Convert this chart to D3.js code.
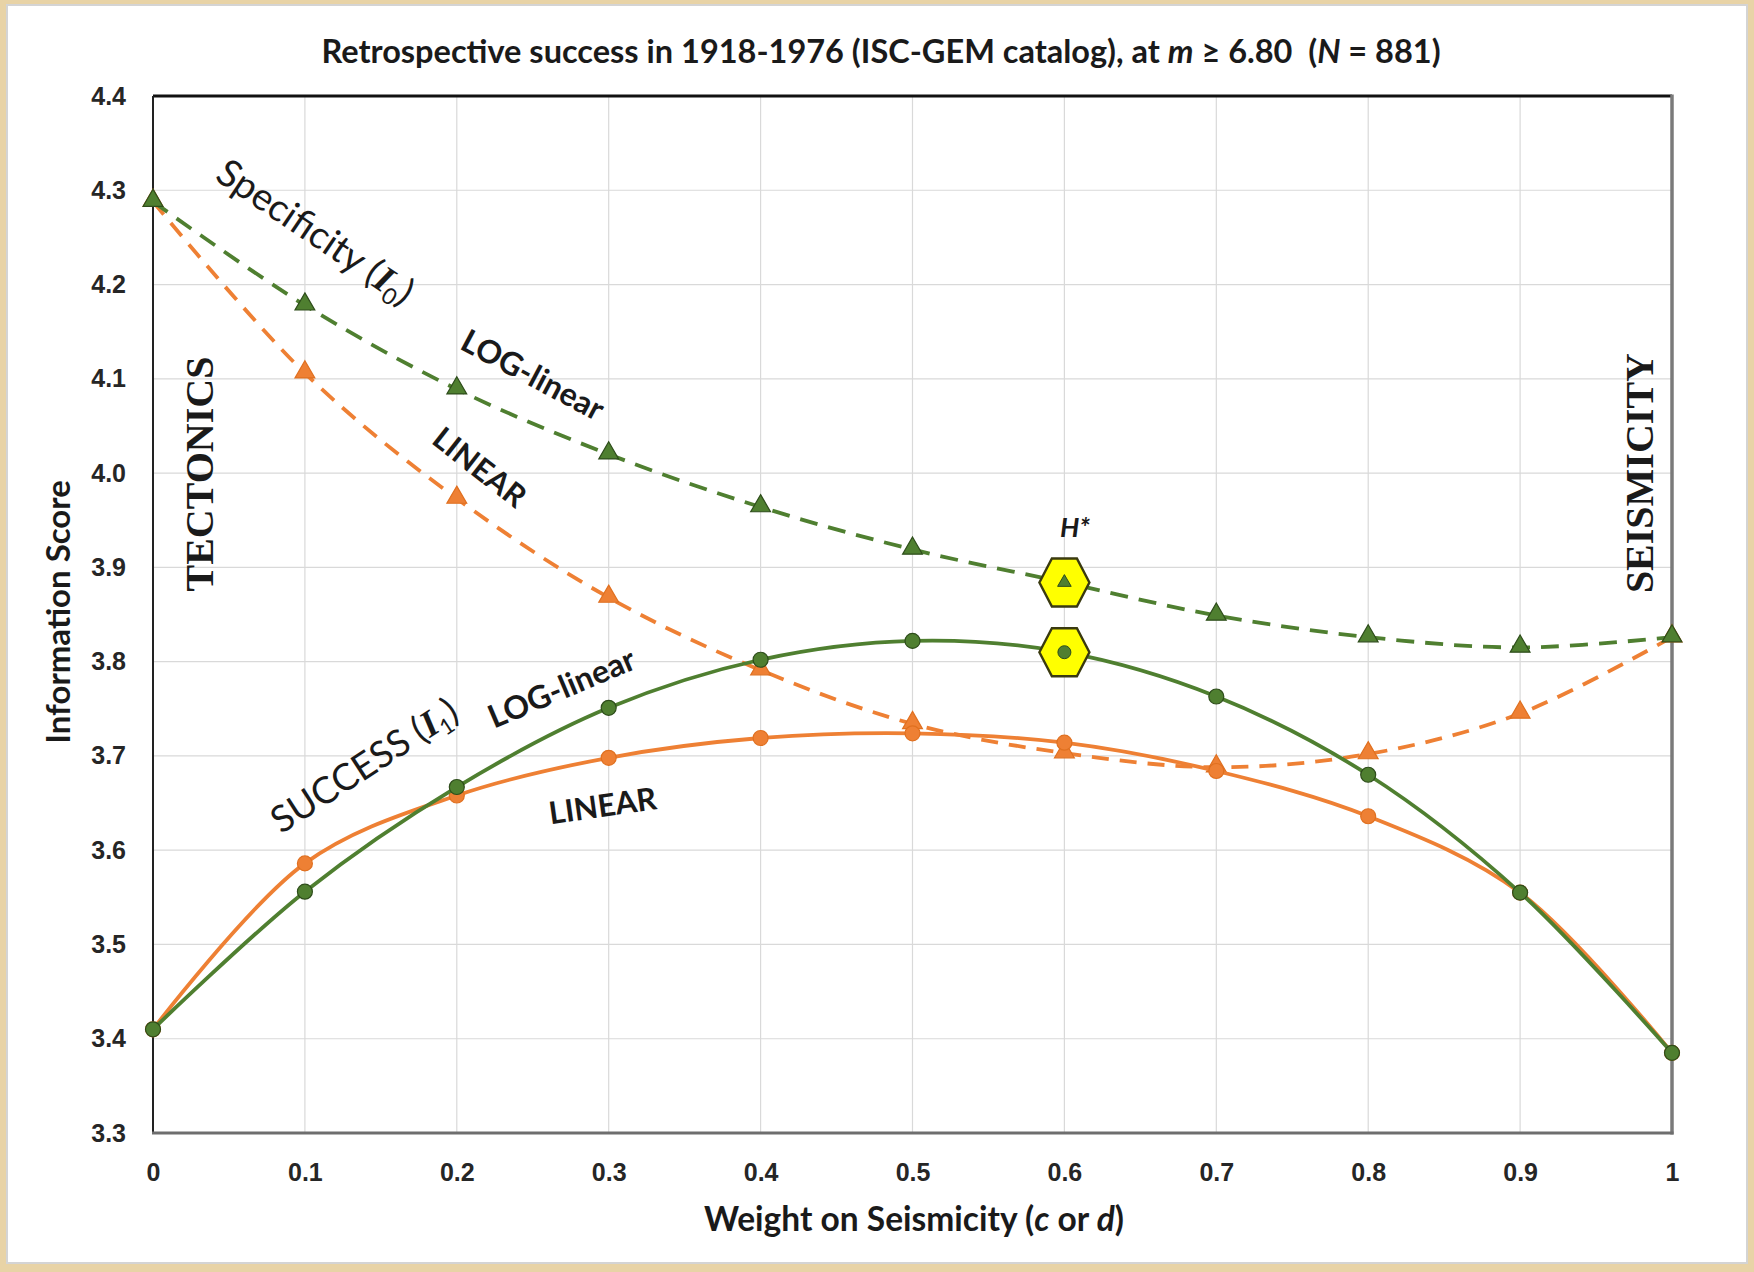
<!DOCTYPE html>
<html lang="en">

<head>
    <meta charset="UTF-8" />
    <title>Retrospective success in 1918-1976</title>
    <script src="https://d3js.org/d3.v7.min.js"></script>
    <style>
        body {
            margin: 0;
            background: #e8d3a6;
        }

        svg {
            display: block;
            font-family: Lato, "Open Sans", sans-serif;
        }

        .grid line {
            stroke: #d9d9d9;
            stroke-width: 1.2px;
        }

        .tick text {
            font-size: 25px;
            font-weight: bold;
            fill: #262626;
        }

        .note {
            fill: #1a1a1a;
        }
    </style>
</head>

<body>
    <svg width="1754" height="1272"></svg>

    <script>
        // weight on seismicity
        const weights = [0, 0.1, 0.2, 0.3, 0.4, 0.5, 0.6, 0.7, 0.8, 0.9, 1.0];
        const yTicks = [3.3, 3.4, 3.5, 3.6, 3.7, 3.8, 3.9, 4.0, 4.1, 4.2, 4.3, 4.4];

        // specificity I0
        const specLog = [4.288, 4.178, 4.089, 4.020, 3.964, 3.919, 3.884, 3.849, 3.826, 3.815, 3.826];
        const specLin = [4.288, 4.106, 3.973, 3.868, 3.791, 3.734, 3.703, 3.688, 3.702, 3.745, 3.826];
        // success I1
        const succLog = [3.410, 3.556, 3.667, 3.751, 3.802, 3.822, 3.810, 3.763, 3.680, 3.555, 3.385];
        const succLin = [3.410, 3.586, 3.658, 3.698, 3.719, 3.724, 3.714, 3.684, 3.636, 3.555, 3.385];

        // H* optimum (index into weights)
        const bestIndex = 6;

        const GREEN = "#4f7f30";
        const GREEN_DARK = "#2e4d1b";
        const ORANGE = "#ee8034";

        const svg = d3.select("svg");
        const W = 1754, H = 1272;

        // white card on the beige paper
        svg.append("rect").attr("x", 0).attr("y", 0).attr("width", W).attr("height", H).attr("fill", "#e8d3a6");
        svg.append("rect")
            .attr("x", 7).attr("y", 5).attr("width", 1740).attr("height", 1258)
            .attr("fill", "#fff").attr("stroke", "#d4d4d4").attr("stroke-width", 2);

        const pLeft = 153, pRight = 1672, pTop = 96, pBottom = 1133;
        const x = d3.scaleLinear().domain([0, 1]).range([pLeft, pRight]);
        const y = d3.scaleLinear().domain([3.3, 4.4]).range([pBottom, pTop]);

        // grid
        const grid = svg.append("g").attr("class", "grid");
        grid.selectAll(".gx").data(weights).join("line")
            .attr("x1", d => x(d)).attr("x2", d => x(d))
            .attr("y1", pTop).attr("y2", pBottom);
        grid.selectAll(".gy").data(yTicks).join("line")
            .attr("x1", pLeft).attr("x2", pRight)
            .attr("y1", d => y(d)).attr("y2", d => y(d));

        // axes labels only
        const yAxis = svg.append("g")
            .attr("transform", `translate(${pLeft},0)`)
            .call(d3.axisLeft(y).tickValues(yTicks).tickSize(0).tickPadding(27).tickFormat(d3.format(".1f")));
        yAxis.select(".domain").remove();

        const xAxis = svg.append("g")
            .attr("transform", `translate(0,${pBottom})`)
            .call(d3.axisBottom(x).tickValues(weights).tickSize(0).tickPadding(30).tickFormat(d3.format("~g")));
        xAxis.select(".domain").remove();

        // plot frame
        svg.append("line").attr("x1", pLeft).attr("x2", pRight).attr("y1", pTop).attr("y2", pTop)
            .attr("stroke", "#111").attr("stroke-width", 3);
        svg.append("line").attr("x1", pLeft).attr("x2", pLeft).attr("y1", pTop).attr("y2", pBottom)
            .attr("stroke", "#222").attr("stroke-width", 2);
        svg.append("line").attr("x1", pRight).attr("x2", pRight).attr("y1", pTop - 1.5).attr("y2", pBottom + 1.5)
            .attr("stroke", "#7a7a7a").attr("stroke-width", 3.5);
        svg.append("line").attr("x1", pLeft - 1).attr("x2", pRight + 1.5).attr("y1", pBottom).attr("y2", pBottom)
            .attr("stroke", "#6e6e6e").attr("stroke-width", 3);

        const line = d3.line()
            .x((d, i) => x(weights[i]))
            .y(d => y(d))
            .curve(d3.curveCatmullRom.alpha(0.5));

        const series = [
            { values: specLin, color: ORANGE, dash: "17 11", marker: "tri", fill: ORANGE, stroke: "#e07020" },
            { values: specLog, color: GREEN, dash: "18 11", marker: "tri", fill: GREEN, stroke: GREEN_DARK },
            { values: succLin, color: ORANGE, dash: null, marker: "dot", fill: ORANGE, stroke: "#e07020" },
            { values: succLog, color: GREEN, dash: null, marker: "dot", fill: GREEN, stroke: GREEN_DARK }
        ];

        const tri = d3.symbol().type(d3.symbolTriangle).size(170);

        series.forEach(s => {
            svg.append("path")
                .datum(s.values)
                .attr("fill", "none")
                .attr("stroke", s.color)
                .attr("stroke-width", 3.8)
                .attr("stroke-dasharray", s.dash)
                .attr("d", line);

            const m = svg.append("g").selectAll("g")
                .data(s.values)
                .join("g")
                .attr("transform", (d, i) => `translate(${x(weights[i])},${y(d)})`);
            if (s.marker === "tri") {
                m.append("path").attr("d", tri).attr("transform", "translate(0,-1)")
                    .attr("fill", s.fill).attr("stroke", s.stroke).attr("stroke-width", 1.2);
            } else {
                m.append("circle").attr("r", 7.5)
                    .attr("fill", s.fill).attr("stroke", s.stroke).attr("stroke-width", 1.2);
            }
        });

        // H* hexagons
        const hex = "M-25,0 L-12.5,-24 L12.5,-24 L25,0 L12.5,24 L-12.5,24 Z";
        [{ v: specLog[bestIndex], kind: "tri" }, { v: succLog[bestIndex], kind: "dot" }].forEach(h => {
            const g = svg.append("g")
                .attr("transform", `translate(${x(weights[bestIndex])},${y(h.v)})`);
            g.append("path").attr("d", hex).attr("fill", "#ffff00")
                .attr("stroke", "#3a3a10").attr("stroke-width", 2.4);
            if (h.kind === "tri") {
                g.append("path").attr("d", d3.symbol().type(d3.symbolTriangle).size(80))
                    .attr("fill", GREEN).attr("stroke", GREEN_DARK).attr("stroke-width", 1);
            } else {
                g.append("circle").attr("r", 6.5).attr("fill", GREEN).attr("stroke", GREEN_DARK).attr("stroke-width", 1);
            }
        });

        // rotated annotations
        function note(cx, cy, angle, size, weight, parts, family) {
            const t = svg.append("text")
                .attr("class", "note")
                .attr("transform", `translate(${x(cx)},${y(cy)}) rotate(${angle})`)
                .attr("text-anchor", "middle")
                .attr("dy", "0.35em")
                .style("font-size", size + "px")
                .style("font-weight", weight);
            if (family) t.style("font-family", family);
            parts.forEach(p => {
                const ts = t.append("tspan").text(p.t);
                if (p.italic) ts.style("font-style", "italic");
                if (p.serif) ts.style("font-family", "'Liberation Serif', serif").style("font-weight", "bold");
                if (p.sub) ts.attr("baseline-shift", "-30%").style("font-size", (size * 0.6) + "px");
            });
            return t;
        }

        note(0.107, 4.256, 34, 38, "normal", [
            { t: "Specificity (" }, { t: "I", italic: true, serif: true }, { t: "0", sub: true }, { t: ")" }
        ]);
        note(0.250, 4.104, 28, 32, "bold", [{ t: "LOG-linear" }]);
        note(0.215, 4.006, 38, 31, "bold", [{ t: "LINEAR" }]);
        note(0.139, 3.690, -33, 37, "normal", [
            { t: "SUCCESS (" }, { t: "I", italic: true, serif: true }, { t: "1", sub: true }, { t: ")" }
        ]);
        note(0.269, 3.772, -23, 32, "bold", [{ t: "LOG-linear" }]);
        note(0.296, 3.647, -8, 31, "bold", [{ t: "LINEAR" }]);
        note(0.607, 3.942, 0, 27, "bold", [{ t: "H", italic: true }, { t: "*", italic: true }]);

        note(0.030, 3.999, -90, 40, "bold", [{ t: "TECTONICS" }], "'Liberation Serif', serif");
        note(0.978, 4.000, -90, 40, "bold", [{ t: "SEISMICITY" }], "'Liberation Serif', serif");

        // title
        const title = svg.append("text")
            .attr("x", 881).attr("y", 63)
            .attr("text-anchor", "middle")
            .style("font-size", "32.5px").style("font-weight", "bold").style("fill", "#1a1a1a");
        title.append("tspan").text("Retrospective success in 1918-1976 (ISC-GEM catalog), at ");
        title.append("tspan").style("font-style", "italic").text("m");
        title.append("tspan").text(" \u2265 6.80\u00a0\u00a0(");
        title.append("tspan").style("font-style", "italic").text("N");
        title.append("tspan").text(" = 881)");

        // axis titles
        const xt = svg.append("text")
            .attr("x", 914).attr("y", 1231)
            .attr("text-anchor", "middle")
            .style("font-size", "33.5px").style("font-weight", "bold").style("fill", "#1a1a1a");
        xt.append("tspan").text("Weight on Seismicity (");
        xt.append("tspan").style("font-style", "italic").text("c");
        xt.append("tspan").text(" or ");
        xt.append("tspan").style("font-style", "italic").text("d");
        xt.append("tspan").text(")");

        svg.append("text")
            .attr("transform", "translate(58,612) rotate(-90)")
            .attr("text-anchor", "middle")
            .attr("dy", "0.35em")
            .style("font-size", "33px").style("font-weight", "bold").style("fill", "#1a1a1a")
            .text("Information Score");
    </script>
</body>

</html>
